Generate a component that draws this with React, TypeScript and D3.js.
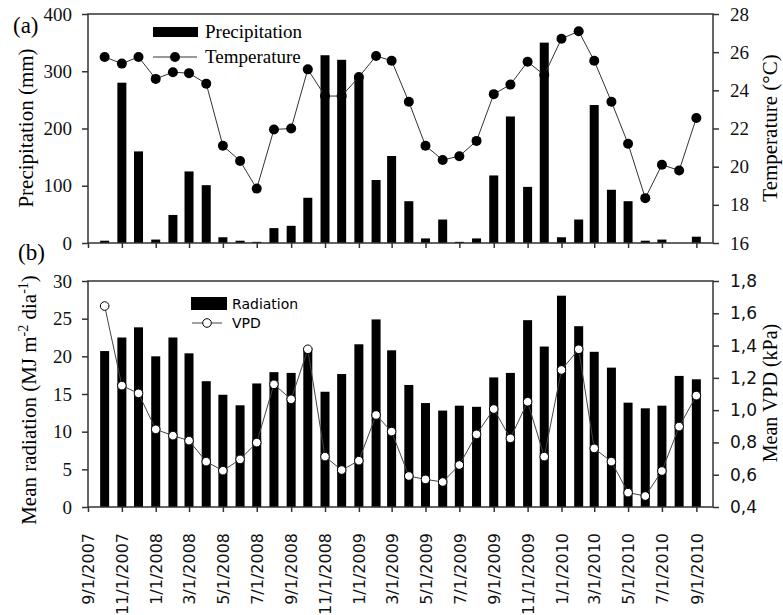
import * as d3 from "d3";
import { useRef, useEffect } from "react";

// monthly values, Oct 2007 .. Sep 2010
const months = [
  "10/1/2007", "11/1/2007", "12/1/2007", "1/1/2008", "2/1/2008", "3/1/2008",
  "4/1/2008", "5/1/2008", "6/1/2008", "7/1/2008", "8/1/2008", "9/1/2008",
  "10/1/2008", "11/1/2008", "12/1/2008", "1/1/2009", "2/1/2009", "3/1/2009",
  "4/1/2009", "5/1/2009", "6/1/2009", "7/1/2009", "8/1/2009", "9/1/2009",
  "10/1/2009", "11/1/2009", "12/1/2009", "1/1/2010", "2/1/2010", "3/1/2010",
  "4/1/2010", "5/1/2010", "6/1/2010", "7/1/2010", "8/1/2010", "9/1/2010",
];
const precipitation = [
  4, 280, 160, 6, 49, 125, 101, 10, 4, 2, 26, 30,
  79, 328, 320, 290, 110, 152, 73, 8, 41, 2, 8, 118,
  221, 98, 350, 10, 41, 241, 93, 73, 4, 6, 0, 11,
];
const temperature = [
  25.75, 25.4, 25.75, 24.6, 24.95, 24.9, 24.35, 21.1, 20.3, 18.85, 21.95, 22.0,
  25.1, 23.7, 23.7, 24.7, 25.8, 25.55, 23.4, 21.1, 20.35, 20.55, 21.35, 23.8,
  24.3, 25.5, 24.8, 26.7, 27.1, 25.55, 23.4, 21.2, 18.35, 20.1, 19.8, 22.55,
];
const radiation = [
  20.7, 22.5, 23.85, 20.0, 22.5, 20.4, 16.7, 14.9, 13.5, 16.4, 17.9, 17.8,
  21.1, 15.3, 17.65, 21.6, 24.9, 20.8, 16.2, 13.8, 12.8, 13.45, 13.3, 17.2,
  17.8, 24.8, 21.3, 28.05, 24.0, 20.6, 18.5, 13.85, 13.1, 13.45, 17.4, 16.95,
];
const vpd = [
  1.645, 1.152, 1.104, 0.881, 0.842, 0.811, 0.681, 0.625, 0.695, 0.799, 1.16, 1.067,
  1.377, 0.712, 0.629, 0.687, 0.97, 0.867, 0.592, 0.571, 0.555, 0.66, 0.85, 1.007,
  0.825, 1.052, 0.712, 1.249, 1.377, 0.763, 0.681, 0.489, 0.468, 0.623, 0.898, 1.09,
];

const dateTicks = [
  "9/1/2007", "11/1/2007", "1/1/2008", "3/1/2008", "5/1/2008", "7/1/2008",
  "9/1/2008", "11/1/2008", "1/1/2009", "3/1/2009", "5/1/2009", "7/1/2009",
  "9/1/2009", "11/1/2009", "1/1/2010", "3/1/2010", "5/1/2010", "7/1/2010",
  "9/1/2010",
];
const precipTicks = [0, 100, 200, 300, 400];
const tempTicks = [16, 18, 20, 22, 24, 26, 28];
const radTicks = [0, 5, 10, 15, 20, 25, 30];
const vpdTicks = [0.4, 0.6, 0.8, 1.0, 1.2, 1.4, 1.6, 1.8];

const parse = d3.timeParse("%m/%d/%Y");
const fmtDate = d3.timeFormat("%-m/%-d/%Y");
const serif = "'Liberation Serif', 'Times New Roman', serif";
const sans = "'DejaVu Sans', sans-serif";

function App() {
  const svgRef = useRef<SVGSVGElement>(null);

  useEffect(() => {
    const svg = d3.select(svgRef.current);
    svg.selectAll("*").remove();

    const left = 88;
    const right = 713;
    const barW = 9;

    const rows = months.map((m, i) => ({
      date: parse(m) as Date,
      p: precipitation[i],
      t: temperature[i],
      r: radiation[i],
      v: vpd[i],
    }));

    const x = d3
      .scaleTime()
      .domain([parse("9/1/2007") as Date, parse("10/1/2010") as Date])
      .range([left, right]);
    const yP = d3.scaleLinear().domain([0, 400]).range([243, 14]);
    const yT = d3.scaleLinear().domain([16, 28]).range([243, 14]);
    const yR = d3.scaleLinear().domain([0, 30]).range([507, 281]);
    const yV = d3.scaleLinear().domain([0.4, 1.8]).range([507, 281]);
    const ticks = dateTicks.map((d) => parse(d) as Date);

    const styleAxis = (g, font, size) => {
      g.select(".domain").remove();
      g.attr("font-family", font).attr("font-size", size);
      g.selectAll("line").attr("stroke", "#333").attr("stroke-width", 1.5);
      g.selectAll("text").attr("fill", "#111");
    };

    // ---------- panel (a) ----------
    const a = svg.append("g");
    a.selectAll("rect.bar")
      .data(rows.filter((d) => d.p > 0))
      .join("rect")
      .attr("class", "bar")
      .attr("x", (d) => x(d.date) - barW / 2)
      .attr("width", barW)
      .attr("y", (d) => yP(d.p))
      .attr("height", (d) => yP(0) - yP(d.p))
      .attr("fill", "#000");

    const tLine = d3
      .line<any>()
      .x((d) => x(d.date))
      .y((d) => yT(d.t));
    a.append("path")
      .datum(rows)
      .attr("d", tLine)
      .attr("fill", "none")
      .attr("stroke", "#333")
      .attr("stroke-width", 1);
    a.selectAll("circle.t")
      .data(rows)
      .join("circle")
      .attr("class", "t")
      .attr("cx", (d) => x(d.date))
      .attr("cy", (d) => yT(d.t))
      .attr("r", 5)
      .attr("fill", "#000");

    a.append("rect")
      .attr("x", left)
      .attr("y", 14)
      .attr("width", right - left)
      .attr("height", 229)
      .attr("fill", "none")
      .attr("stroke", "#333")
      .attr("stroke-width", 1.5);

    a.append("g")
      .attr("transform", "translate(0,243)")
      .call(d3.axisBottom(x).tickValues(ticks).tickSize(5).tickFormat(() => ""))
      .call((g) => styleAxis(g, serif, 19));
    a.append("g")
      .attr("transform", `translate(${left},0)`)
      .call(d3.axisLeft(yP).tickValues(precipTicks).tickSize(6).tickPadding(10))
      .call((g) => styleAxis(g, serif, 19));
    a.append("g")
      .attr("transform", `translate(${right},0)`)
      .call(d3.axisRight(yT).tickValues(tempTicks).tickSize(6).tickPadding(11))
      .call((g) => styleAxis(g, serif, 19));

    // legend (a)
    a.append("rect").attr("x", 153).attr("y", 27).attr("width", 45).attr("height", 10).attr("fill", "#000");
    a.append("text").attr("x", 205).attr("y", 38).attr("font-family", serif).attr("font-size", 19).text("Precipitation");
    a.append("line").attr("x1", 153).attr("x2", 197).attr("y1", 57).attr("y2", 57).attr("stroke", "#333");
    a.append("circle").attr("cx", 175).attr("cy", 57).attr("r", 5).attr("fill", "#000");
    a.append("text").attr("x", 205).attr("y", 63).attr("font-family", serif).attr("font-size", 19).text("Temperature");

    a.append("text").attr("x", 13).attr("y", 33).attr("font-family", serif).attr("font-size", 23).text("(a)");
    a.append("text")
      .attr("transform", "translate(33,128) rotate(-90)")
      .attr("text-anchor", "middle")
      .attr("font-family", serif)
      .attr("font-size", 21)
      .text("Precipitation (mm)");
    a.append("text")
      .attr("transform", "translate(777,128) rotate(-90)")
      .attr("text-anchor", "middle")
      .attr("font-family", serif)
      .attr("font-size", 21)
      .text("Temperature (°C)");

    // ---------- panel (b) ----------
    const b = svg.append("g");
    b.selectAll("rect.bar")
      .data(rows)
      .join("rect")
      .attr("class", "bar")
      .attr("x", (d) => x(d.date) - barW / 2)
      .attr("width", barW)
      .attr("y", (d) => yR(d.r))
      .attr("height", (d) => yR(0) - yR(d.r))
      .attr("fill", "#000");

    const vLine = d3
      .line<any>()
      .x((d) => x(d.date))
      .y((d) => yV(d.v));
    b.append("path")
      .datum(rows)
      .attr("d", vLine)
      .attr("fill", "none")
      .attr("stroke", "#444")
      .attr("stroke-width", 1);
    b.selectAll("circle.v")
      .data(rows)
      .join("circle")
      .attr("class", "v")
      .attr("cx", (d) => x(d.date))
      .attr("cy", (d) => yV(d.v))
      .attr("r", 4.3)
      .attr("fill", "#fff")
      .attr("stroke", "#000")
      .attr("stroke-width", 1);

    b.append("rect")
      .attr("x", left)
      .attr("y", 281)
      .attr("width", right - left)
      .attr("height", 226)
      .attr("fill", "none")
      .attr("stroke", "#333")
      .attr("stroke-width", 1.5);

    b.append("g")
      .attr("transform", "translate(0,507)")
      .call(d3.axisBottom(x).tickValues(ticks).tickSize(5).tickFormat((d) => fmtDate(d as Date)))
      .call((g) => styleAxis(g, sans, 16))
      .call((g) =>
        g
          .selectAll("text")
          .attr("transform", "rotate(-90)")
          .attr("text-anchor", "end")
          .attr("x", -26)
          .attr("y", 0)
          .attr("dy", "0.36em")
      );
    b.append("g")
      .attr("transform", `translate(${left},0)`)
      .call(d3.axisLeft(yR).tickValues(radTicks).tickSize(6).tickPadding(10))
      .call((g) => styleAxis(g, serif, 19));
    b.append("g")
      .attr("transform", `translate(${right},0)`)
      .call(
        d3
          .axisRight(yV)
          .tickValues(vpdTicks)
          .tickSize(6)
          .tickPadding(11)
          .tickFormat((d) => d3.format(".1f")(d as number).replace(".", ","))
      )
      .call((g) => styleAxis(g, sans, 17));

    // legend (b)
    b.append("rect").attr("x", 191).attr("y", 297).attr("width", 36).attr("height", 13).attr("fill", "#000");
    b.append("text").attr("x", 232).attr("y", 309).attr("font-family", sans).attr("font-size", 14).text("Radiation");
    b.append("line").attr("x1", 192).attr("x2", 222).attr("y1", 323).attr("y2", 323).attr("stroke", "#444");
    b.append("circle").attr("cx", 207).attr("cy", 323).attr("r", 4.3).attr("fill", "#fff").attr("stroke", "#000");
    b.append("text").attr("x", 232).attr("y", 328).attr("font-family", sans).attr("font-size", 14).text("VPD");

    b.append("text").attr("x", 18).attr("y", 260).attr("font-family", serif).attr("font-size", 23).text("(b)");

    const rt = b
      .append("text")
      .attr("transform", "translate(36,400) rotate(-90)")
      .attr("text-anchor", "middle")
      .attr("font-family", serif)
      .attr("font-size", 21);
    rt.append("tspan").text("Mean radiation (MJ m");
    rt.append("tspan").attr("font-size", 14).attr("dy", -8).text("-2");
    rt.append("tspan").attr("dy", 8).text(" dia");
    rt.append("tspan").attr("font-size", 14).attr("dy", -8).text("-1");
    rt.append("tspan").attr("dy", 8).text(")");

    b.append("text")
      .attr("transform", "translate(777,393) rotate(-90)")
      .attr("text-anchor", "middle")
      .attr("font-family", serif)
      .attr("font-size", 20)
      .text("Mean VPD (kPa)");
  }, []);

  return (
    <svg
      ref={svgRef}
      width={783}
      height={615}
      style={{ position: "fixed", left: 0, top: 0, background: "#fff" }}
    ></svg>
  );
}

export default App;
